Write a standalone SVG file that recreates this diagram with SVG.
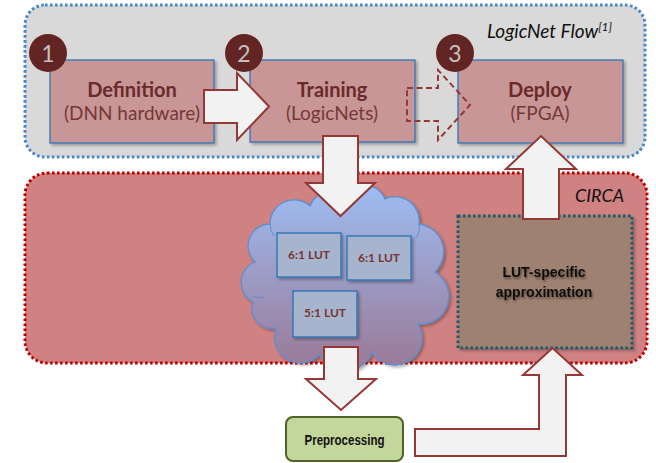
<svg xmlns="http://www.w3.org/2000/svg" width="656" height="463" viewBox="0 0 656 463">
  <defs>
    <style>
      .panel-flow { fill: #d9d9d9; stroke: #4a86c8; stroke-width: 3; stroke-dasharray: 2.6 2.4; }
      .panel-circa { fill: #d08283; stroke: #c00000; stroke-width: 3; stroke-dasharray: 2.6 2.4; }
      .step { fill: #c89696; stroke: #2e75b6; stroke-width: 1.3; }
      .badge { fill: #632523; }
      .badge-num { font-family: Lato, "Liberation Sans", sans-serif; font-size: 23px; fill: #c4c0c0; text-anchor: middle; }
      .title { font-family: Lato, "Liberation Sans", sans-serif; font-size: 20px; font-weight: bold; fill: #6a2a2a; text-anchor: middle; }
      .sub { font-family: Lato, "Liberation Sans", sans-serif; font-size: 19px; fill: #773838; text-anchor: middle; }
      .panel-label { font-family: Lato, "Liberation Sans", sans-serif; font-style: italic; fill: #111; }
      .lut { fill: #a6b4cd; stroke: #2e75b6; stroke-width: 1.4; }
      .lut-text { font-family: Lato, "Liberation Sans", sans-serif; font-size: 12px; font-weight: bold; fill: #7a3434; text-anchor: middle; }
      .approx { fill: #9f8171; stroke: #1f5a6a; stroke-width: 3; stroke-dasharray: 2.6 2.4; }
      .approx-text { font-family: "Liberation Sans", Arial, sans-serif; font-size: 14px; font-weight: bold; fill: #111; text-anchor: middle; }
      .prep { fill: #c3d69b; stroke: #4f6228; stroke-width: 2; }
      .prep-text { font-family: "Liberation Sans", Arial, sans-serif; font-size: 14px; font-weight: bold; fill: #111; text-anchor: middle; }
      .arrow { fill: #f2f2f2; stroke: #953735; stroke-width: 2; stroke-linejoin: miter; }
      .arrow-dashed { fill: none; stroke: #953735; stroke-width: 2; stroke-dasharray: 6 3.5; }
    </style>
    <linearGradient id="cloudFill" x1="0" y1="0" x2="0" y2="1">
      <stop offset="0" stop-color="#9ebdf2"/>
      <stop offset="1" stop-color="#9a7896"/>
    </linearGradient>
    <filter id="shadow" x="-10%" y="-10%" width="130%" height="130%">
      <feGaussianBlur in="SourceAlpha" stdDeviation="1.5"/>
      <feOffset dx="1.5" dy="1.5" result="b"/>
      <feComponentTransfer><feFuncA type="linear" slope="0.3"/></feComponentTransfer>
      <feMerge><feMergeNode/><feMergeNode in="SourceGraphic"/></feMerge>
    </filter>
    <filter id="textGlow" x="-10%" y="-30%" width="120%" height="160%">
      <feGaussianBlur in="SourceAlpha" stdDeviation="1.2"/>
      <feOffset dx="1" dy="1.5"/>
      <feComponentTransfer><feFuncA type="linear" slope="0.45"/></feComponentTransfer>
      <feMerge><feMergeNode/><feMergeNode in="SourceGraphic"/></feMerge>
    </filter>
  </defs>

  <rect width="656" height="463" fill="#ffffff"/>

  <!-- LogicNet flow container -->
  <g id="logicnet-flow">
    <rect class="panel-flow" x="25" y="5" width="620" height="152" rx="20"/>
    <text class="panel-label" x="487" y="38" font-size="19">LogicNet Flow<tspan font-size="12" dy="-7">[1]</tspan></text>
  </g>

  <!-- CIRCA container -->
  <g id="circa">
    <rect class="panel-circa" x="25" y="173" width="622" height="190" rx="22"/>
    <text class="panel-label" x="575" y="202" font-size="18">CIRCA</text>
  </g>

  <!-- Step 1 -->
  <g id="definition">
    <rect class="step" x="50" y="60" width="164" height="83" filter="url(#shadow)"/>
    <text class="title" x="132" y="97">Definition</text>
    <text class="sub" x="132" y="120">(DNN hardware)</text>
    <circle class="badge" cx="48" cy="53" r="19"/>
    <text class="badge-num" x="48" y="61.5">1</text>
  </g>

  <!-- Step 2 -->
  <g id="training">
    <rect class="step" x="250" y="60" width="165" height="82" filter="url(#shadow)"/>
    <text class="title" x="332" y="97">Training</text>
    <text class="sub" x="332" y="120">(LogicNets)</text>
    <circle class="badge" cx="244" cy="53" r="19"/>
    <text class="badge-num" x="244" y="61.5">2</text>
  </g>

  <!-- Step 3 -->
  <g id="deploy">
    <rect class="step" x="458" y="60" width="165" height="83" filter="url(#shadow)"/>
    <text class="title" x="540" y="97">Deploy</text>
    <text class="sub" x="540" y="120">(FPGA)</text>
    <circle class="badge" cx="455" cy="53" r="19"/>
    <text class="badge-num" x="455" y="61.5">3</text>
  </g>

  <!-- LUT cloud -->
  <g id="lut-cloud">
    <path fill="url(#cloudFill)" stroke="#5b8fd0" stroke-width="1.3" filter="url(#shadow)"
          d="M255,262 A22,22 0 0 1 270,224 A24,24 0 0 1 310,206 A22,22 0 0 1 345,197 A22,22 0 0 1 385,199 A24,24 0 0 1 419,224 A28,28 0 0 1 435,272 A28,28 0 0 1 418,324 A26,26 0 0 1 372,352 A28,28 0 0 1 320,354 A26,26 0 0 1 276,328 A20,20 0 0 1 253,302 A22,22 0 0 1 255,262 Z"/>
    <path fill="none" stroke="#5b8fd0" stroke-width="1" d="M253,296 A14,14 0 0 0 264,297"/>
    <path fill="none" stroke="#5b8fd0" stroke-width="1" d="M270,224 A20,20 0 0 0 274,236"/>
    <path fill="none" stroke="#5b8fd0" stroke-width="1" d="M419,224 A18,18 0 0 1 416,238"/>
    <g id="lut-a">
      <rect class="lut" x="277" y="233" width="64" height="44" filter="url(#shadow)"/>
      <text class="lut-text" x="309" y="259">6:1 LUT</text>
    </g>
    <g id="lut-b">
      <rect class="lut" x="347" y="236" width="64" height="44" filter="url(#shadow)"/>
      <text class="lut-text" x="379" y="262">6:1 LUT</text>
    </g>
    <g id="lut-c">
      <rect class="lut" x="293" y="291" width="64" height="46" filter="url(#shadow)"/>
      <text class="lut-text" x="325" y="317">5:1 LUT</text>
    </g>
  </g>

  <!-- LUT-specific approximation -->
  <g id="lut-approximation">
    <rect class="approx" x="458" y="216" width="174" height="132" filter="url(#shadow)"/>
    <text class="approx-text" x="544" y="277" filter="url(#textGlow)">LUT-specific</text>
    <text class="approx-text" x="544" y="297" filter="url(#textGlow)">approximation</text>
  </g>

  <!-- Preprocessing -->
  <g id="preprocessing">
    <rect class="prep" x="286" y="417" width="117" height="44" rx="7"/>
    <text class="prep-text" x="344.5" y="445" textLength="80" lengthAdjust="spacingAndGlyphs">Preprocessing</text>
  </g>

  <!-- Connectors -->
  <g id="connectors">
    <path class="arrow" d="M204,90 L237,90 L237,73 L269,106.5 L237,140 L237,123 L204,123 Z"/>
    <path class="arrow-dashed" d="M407,88 L438,88 L438,70 L470,105 L438,140 L438,121 L407,121 Z"/>
    <path class="arrow" d="M323,136 L358,136 L358,183 L375,183 L340.5,216 L306,183 L323,183 Z"/>
    <path class="arrow" d="M324,347 L358,347 L358,379 L376,379 L341,410 L306,379 L324,379 Z"/>
    <path class="arrow" d="M523,219 L523,169 L506,169 L541,136 L576,169 L559,169 L559,219 Z"/>
    <path class="arrow" d="M415,429 L539,429 L539,375 L523,375 L552.5,348 L582,375 L566,375 L566,456 L415,456 Z"/>
  </g>
</svg>
